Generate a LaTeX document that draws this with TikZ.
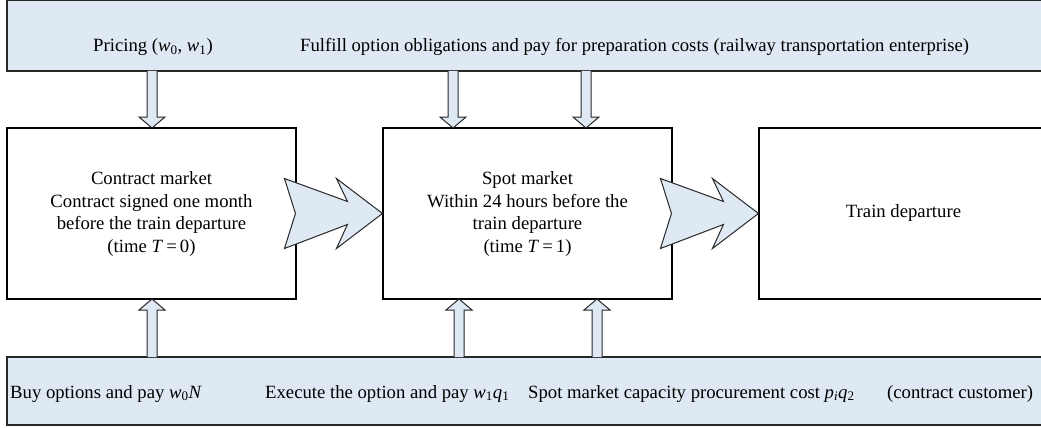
\documentclass[tikz,border=0pt]{standalone}
\usepackage{fontspec}
\setmainfont{Liberation Serif}
\usetikzlibrary{calc}
\definecolor{panel}{RGB}{222,233,243}
\definecolor{edge}{RGB}{40,40,40}
\tikzset{
  band/.style={draw=edge, line width=1.1pt, fill=panel},
  stagebox/.style={draw=black, line width=1.1pt, fill=white, minimum width=289pt, minimum height=171pt, align=center, inner sep=0pt},
  hollow/.style={draw=edge, line width=1pt, fill=panel, line join=miter},
  lbl/.style={inner sep=0pt, anchor=base west},
}
\newcommand\sub[1]{\textsubscript{#1}}
% vertical block arrow: centre x, tip y, tail y (head length 11, head width 26, shaft width 10)
\newcommand\vblock[3]{%
  \draw[hollow] ($(#1-5,#3)$) -- ($(#1-5,#2)+(0,{(#3>#2)?11:-11})$) -- ($(#1-13,#2)+(0,{(#3>#2)?11:-11})$)
   -- (#1,#2) -- ($(#1+13,#2)+(0,{(#3>#2)?11:-11})$) -- ($(#1+5,#2)+(0,{(#3>#2)?11:-11})$) -- (#1+5,#3);}
\begin{document}
\begin{tikzpicture}[x=1pt,y=-1pt, font=\fontsize{18.7}{22.5}\selectfont]
\useasboundingbox (0,0) rectangle (1041,428);
\clip (0,0) rectangle (1041,428);

% top and bottom bands
\draw[band] (7,0.6) rectangle (1060,71);
\draw[band] (7,357) rectangle (1060,425);

% stage boxes
\node[stagebox] (contract) at (151.5,213.5) {};
\node[stagebox] (spot) at (527.5,213.5) {};
\node[stagebox] (depart) at (903.5,213.5) {};

\node[align=center, inner sep=0pt] at ($(contract.center)+(0,0.5)$) {Contract market\\Contract signed one month\\before the train departure\\(time \textit{T}\,=\,0)};
\node[align=center, inner sep=0pt] at ($(spot.center)+(0,0.5)$) {Spot market\\Within 24 hours before the\\train departure\\(time \textit{T}\,=\,1)};
\node[inner sep=0pt] at (depart.center) {Train departure};

% band texts
\node[lbl] (pricing) at (93,52) {Pricing (\textit{w}\sub{0}, \textit{w}\sub{1})};
\node[lbl] (fulfill) at (300,52) {Fulfill option obligations and pay for preparation costs (railway transportation enterprise)};
\node[lbl] (buy) at (10,398) {Buy options and pay \textit{w}\sub{0}\textit{N}};
\node[lbl] (exec) at (265,398) {Execute the option and pay \textit{w}\sub{1}\textit{q}\sub{1}};
\node[lbl] (spotcost) at (528,398) {Spot market capacity procurement cost \textit{p}\sub{\textit{i}}\textit{q}\sub{2}};
\node[lbl] (cust) at (887,398) {(contract customer)};

% vertical arrows between bands and boxes
\vblock{152}{128}{71}
\vblock{453}{128}{71}
\vblock{586}{128}{71}
\vblock{152}{299}{357}
\vblock{459}{299}{357}
\vblock{597}{299}{357}

% notched block arrows between stages
\foreach \tip in {spot.west, depart.west}{
  \draw[hollow] let \p1=(\tip) in
    (\x1-98,\y1-35) -- (\x1-35,\y1-11) -- (\x1-46,\y1-35) -- (\x1,\y1)
    -- (\x1-46,\y1+35) -- (\x1-35,\y1+12) -- (\x1-98,\y1+35) -- (\x1-87,\y1) -- cycle;
}
\end{tikzpicture}
\end{document}
